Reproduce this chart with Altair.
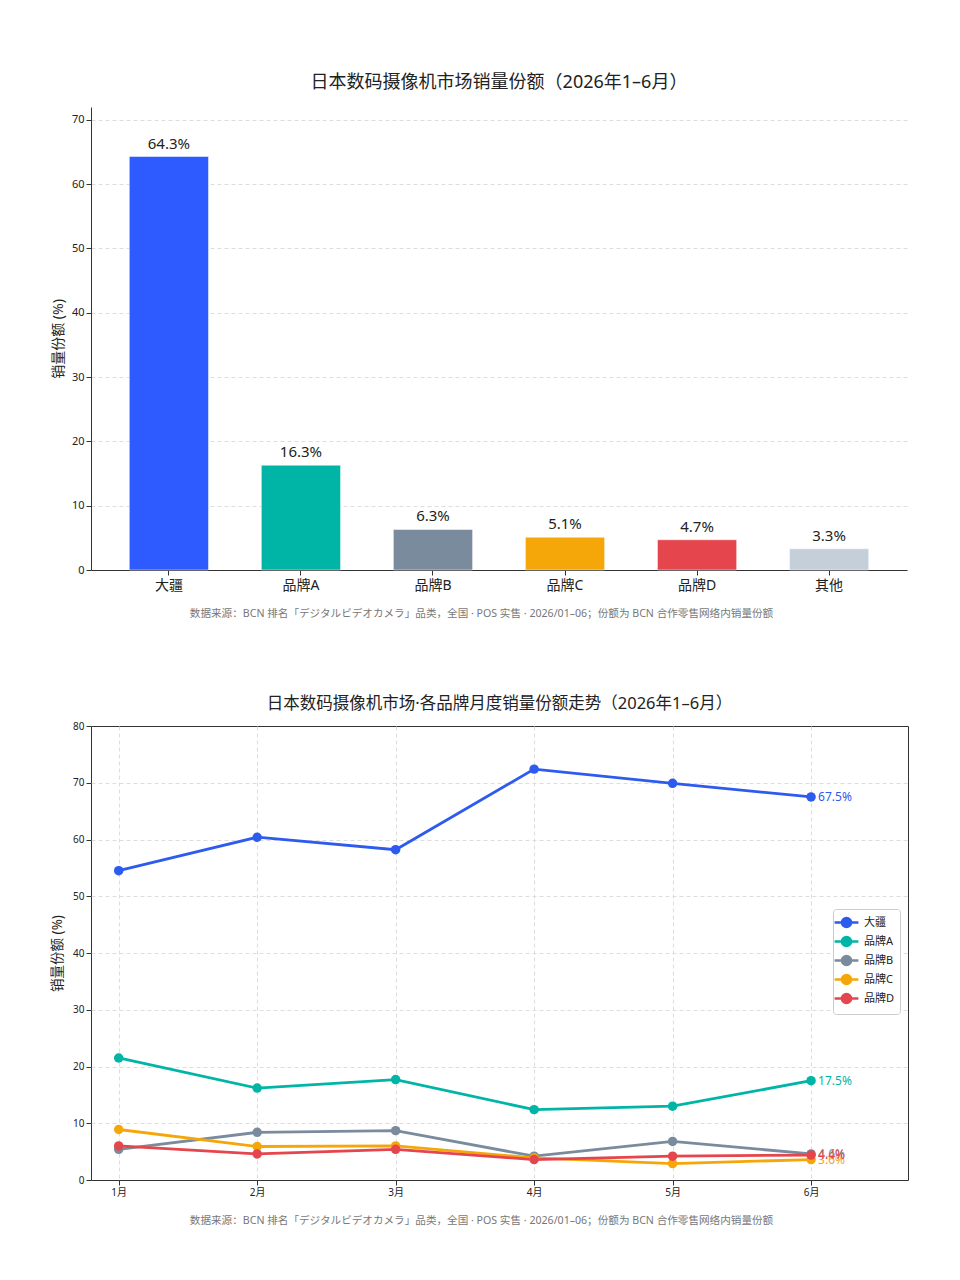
import altair as alt
import pandas as pd

# ---------------- data ----------------
brands = ["大疆", "品牌A", "品牌B", "品牌C", "品牌D", "其他"]
shares = [64.3, 16.3, 6.3, 5.1, 4.7, 3.3]
bar_colors = ["#2D5BFF", "#00B5A6", "#7A8B9E", "#F5A70A", "#E5454D", "#C5CFDA"]

months = ["1月", "2月", "3月", "4月", "5月", "6月"]
series_names = ["大疆", "品牌A", "品牌B", "品牌C", "品牌D"]
dji = [54.5, 60.4, 58.2, 72.4, 69.9, 67.5]
brand_a = [21.5, 16.2, 17.7, 12.4, 13.0, 17.5]
brand_b = [5.4, 8.4, 8.7, 4.2, 6.8, 4.6]
brand_c = [8.9, 5.9, 6.0, 3.9, 2.9, 3.6]
brand_d = [6.0, 4.6, 5.4, 3.6, 4.2, 4.4]
line_colors = ["#2D5BEF", "#00B5A6", "#7A8B9E", "#F5A70A", "#E5454D"]

bar_title = "日本数码摄像机市场销量份额（2026年1–6月）"
line_title = "日本数码摄像机市场·各品牌月度销量份额走势（2026年1–6月）"
y_title = "销量份额 (%)"
source_note = "数据来源：BCN 排名「デジタルビデオカメラ」品类，全国 · POS 实售 · 2026/01–06；份额为 BCN 合作零售网络内销量份额"

FONT = "Noto Sans, Noto Sans CJK SC"

# ---------------- bar chart ----------------
bar_df = pd.DataFrame({
    "brand": brands,
    "share": shares,
    "label": [f"{v:.1f}%" for v in shares],
})

bar_base = alt.Chart(bar_df).encode(
    x=alt.X("brand:N", sort=brands,
            scale=alt.Scale(paddingInner=0.4, paddingOuter=0.29),
            axis=alt.Axis(title=source_note, labelAngle=0, labelFontSize=14,
                          labelColor="#222", titleFontSize=10.6, titleColor="#777",
                          titleFontWeight="normal", titlePadding=16, titleX=390,
                          domainColor="#333", tickColor="#333", tickSize=5,
                          labelPadding=3, grid=False)),
    y=alt.Y("share:Q", scale=alt.Scale(domain=[0, 72], nice=False),
            axis=alt.Axis(title=y_title, values=[0, 10, 20, 30, 40, 50, 60, 70],
                          labelFontSize=11, labelColor="#222", titleFontSize=14,
                          titleColor="#222", titleFontWeight="normal", titlePadding=6,
                          domainColor="#333", tickColor="#333", tickSize=5,
                          grid=True, gridDash=[4, 3], gridColor="#DDDDDD")),
)

bars = bar_base.mark_bar(stroke="white", strokeWidth=0.5).encode(
    color=alt.Color("brand:N", scale=alt.Scale(domain=brands, range=bar_colors), legend=None)
)
bar_labels = bar_base.mark_text(dy=-5, baseline="bottom", fontSize=15, color="#222", font=FONT).encode(
    text="label:N"
)

bar_chart = alt.layer(bars, bar_labels).properties(
    width=816, height=463,
    title=alt.TitleParams(bar_title, fontSize=18, fontWeight="normal", color="#222",
                          anchor="middle", offset=15, font=FONT),
    view=alt.ViewBackground(stroke=None),
)

# ---------------- line chart ----------------
all_series = [dji, brand_a, brand_b, brand_c, brand_d]
rows = []
for name, vals in zip(series_names, all_series):
    for i, v in enumerate(vals):
        rows.append({"series": name, "idx": i, "month": months[i], "value": v,
                     "label": f"{v:.1f}%"})
line_df = pd.DataFrame(rows)

label_expr = "[" + ",".join(f"'{m}'" for m in months) + "][datum.value]"

color_scale = alt.Scale(domain=series_names, range=line_colors)
legend_def = alt.Legend(
    title=None, orient="none", legendX=742, legendY=183,
    symbolType="M-1.7,0L1.7,0M0.65,0A0.65,0.65,0,1,1,-0.65,0A0.65,0.65,0,1,1,0.65,0Z",
    symbolSize=196, symbolStrokeWidth=2.5,
    labelFontSize=11, labelColor="#222", labelFont=FONT, labelOffset=9,
    rowPadding=-7, padding=5, strokeColor="#CCCCCC",
    cornerRadius=3, fillColor="white",
)
color_enc = alt.Color("series:N", sort=series_names, scale=color_scale, legend=legend_def)

edge_opacity = {"condition": {"test": "datum.value <= 0 || datum.value >= 80", "value": 0}, "value": 1}

line_base = alt.Chart(line_df).encode(
    x=alt.X("idx:Q", scale=alt.Scale(domain=[-0.2, 5.7], nice=False, zero=False),
            axis=alt.Axis(title=source_note, values=list(range(len(months))),
                          labelExpr=label_expr, labelFontSize=10, labelColor="#222",
                          titleFontSize=10.6, titleColor="#777", titleFontWeight="normal",
                          titlePadding=18, titleX=390, domain=False, tickColor="#333", tickSize=5,
                          grid=True, gridDash=[4, 3], gridColor="#DDDDDD")),
    y=alt.Y("value:Q", scale=alt.Scale(domain=[0, 80], nice=False),
            axis=alt.Axis(title=y_title, values=[0, 10, 20, 30, 40, 50, 60, 70, 80],
                          labelFontSize=10, labelColor="#222", titleFontSize=13.5,
                          titleColor="#222", titleFontWeight="normal", titlePadding=8,
                          domain=False, tickColor="#333", tickSize=5,
                          grid=True, gridDash=[4, 3], gridColor="#DDDDDD",
                          gridOpacity=edge_opacity)),
    color=color_enc,
)

lines = line_base.mark_line(strokeWidth=2.8).encode(
    detail="series:N",
    order="idx:Q",
)
points = line_base.mark_point(filled=True, size=90, opacity=1)
end_labels = line_base.transform_filter(alt.datum.idx == len(months) - 1).mark_text(
    align="left", baseline="middle", dx=7, fontSize=12, font=FONT
).encode(text="label:N")

line_chart = alt.layer(lines, points, end_labels).properties(
    width=817, height=454,
    title=alt.TitleParams(line_title, fontSize=16.5, fontWeight="normal", color="#222",
                          anchor="middle", offset=9, font=FONT),
    view=alt.ViewBackground(stroke="#333", strokeWidth=1),
)

chart = alt.vconcat(bar_chart, line_chart, spacing=76).resolve_scale(
    color="independent"
).resolve_legend(
    color="independent"
).properties(
    padding={"top": 66, "left": 42, "right": 20, "bottom": 20}
).configure(font=FONT)

chart.save("out.html", embed_options={"renderer": "svg", "actions": False})
